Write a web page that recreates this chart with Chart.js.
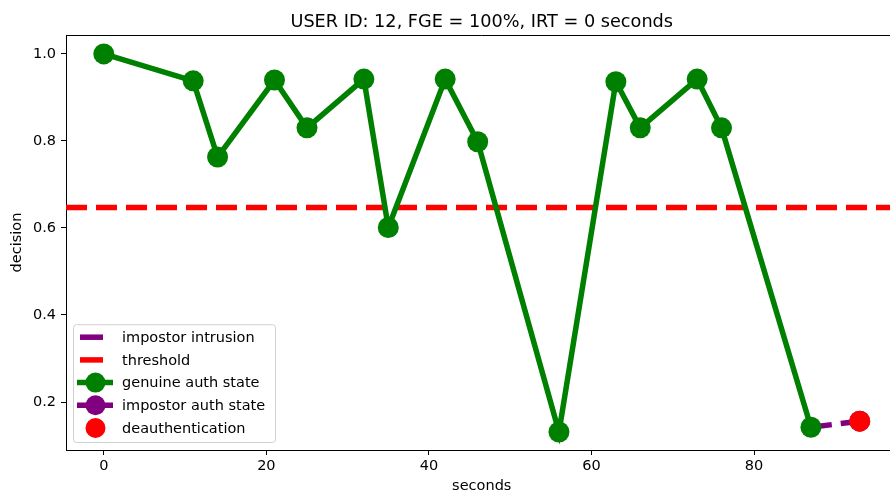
<!DOCTYPE html>
<html>
<head>
<meta charset="utf-8">
<script src="https://cdn.jsdelivr.net/npm/chart.js@4/dist/chart.umd.min.js"></script>
<style>
  html, body { margin: 0; padding: 0; overflow: hidden; background: #fff; }
  #wrap { width: 890px; height: 495px; overflow: hidden; }
</style>
</head>
<body>
<div id="wrap"><canvas id="chartAuth" width="908" height="495"></canvas></div>
<script>
// data
const genuineSec = [0, 11, 14, 21, 25, 32, 35, 42, 46, 56, 63, 66, 73, 76, 87];
const genuineDecision = [1.0, 0.938, 0.763, 0.940, 0.830, 0.942, 0.601, 0.942, 0.798, 0.131, 0.936, 0.830, 0.942, 0.830, 0.142];
const intrusionSec = [87, 93];
const intrusionDecision = [0.142, 0.156];
const impostorSec = [93];
const impostorDecision = [0.156];
const deauthSec = [93];
const deauthDecision = [0.156];
const thresholdValue = 0.647;
const xTicks = [0, 20, 40, 60, 80];
const yTicks = [0.2, 0.4, 0.6, 0.8, 1.0];
const chartTitle = 'USER ID: 12, FGE = 100%, IRT = 0 seconds';

const X_MIN = -4.65, X_MAX = 97.65;
const Y_MIN = 0.0897, Y_MAX = 1.0434;

const GREEN = '#008000';
const PURPLE = '#800080';
const RED = '#ff0000';

function toPoints(xs, ys) {
    return xs.map((x, i) => ({ x: x, y: ys[i] }));
}

Chart.defaults.font.family = 'DejaVu Sans';
Chart.defaults.font.size = 14.5;
Chart.defaults.color = '#000';

// matplotlib style box, title over the axes and legend in the lower left corner
const boxAndLegend = {
    id: 'boxAndLegend',
    afterDatasetsDraw(chart) {
        const { ctx, chartArea } = chart;
        ctx.save();
        ctx.strokeStyle = '#000';
        ctx.lineWidth = 1;
        ctx.beginPath();
        ctx.moveTo(chartArea.left, chartArea.top + 0.5);
        ctx.lineTo(chartArea.right, chartArea.top + 0.5);
        ctx.lineTo(chartArea.right, chartArea.bottom);
        ctx.stroke();

        ctx.fillStyle = '#000';
        ctx.font = '17.7px "DejaVu Sans"';
        ctx.textAlign = 'center';
        ctx.textBaseline = 'alphabetic';
        ctx.fillText(chartTitle, (chartArea.left + chartArea.right) / 2, chartArea.top - 8.5);

        const rowH = 22.7;
        const items = chart.data.datasets;
        const boxX = chartArea.left + 7;
        const boxW = 202;
        const boxH = 13 + rowH * (items.length - 1) + 14;
        const boxY = chartArea.bottom - 8 - boxH;

        ctx.beginPath();
        ctx.roundRect(boxX + 0.5, boxY + 0.5, boxW, boxH, 3);
        ctx.fillStyle = 'rgba(255,255,255,0.8)';
        ctx.fill();
        ctx.strokeStyle = '#d0d0d0';
        ctx.stroke();

        items.forEach((ds, i) => {
            const cy = boxY + 13 + i * rowH;
            const x0 = boxX + 4, x1 = boxX + 40;
            if (ds.showLine !== false) {
                ctx.beginPath();
                ctx.strokeStyle = ds.borderColor;
                ctx.lineWidth = ds.borderWidth;
                if (ds.borderDash && ds.borderDash.length) {
                    ctx.moveTo(x0 + 3, cy);
                    ctx.lineTo(x0 + 26, cy);
                } else {
                    ctx.moveTo(x0, cy);
                    ctx.lineTo(x1, cy);
                }
                ctx.stroke();
            }
            if (ds.pointRadius > 0) {
                ctx.beginPath();
                ctx.fillStyle = ds.pointBackgroundColor;
                ctx.arc(boxX + 22.5, cy, ds.pointRadius - 0.5, 0, Math.PI * 2);
                ctx.fill();
            }
            ctx.fillStyle = '#000';
            ctx.font = '14.5px "DejaVu Sans"';
            ctx.textBaseline = 'middle';
            ctx.textAlign = 'left';
            ctx.fillText(ds.label, boxX + 49, cy + 1);
        });
        ctx.restore();
    }
};

new Chart(document.getElementById('chartAuth'), {
    type: 'line',
    data: {
        datasets: [{
            label: 'impostor intrusion',
            data: toPoints(intrusionSec, intrusionDecision),
            borderColor: PURPLE,
            borderWidth: 5.5,
            borderDash: [21, 9],
            pointRadius: 0,
            order: 5
        }, {
            label: 'threshold',
            data: toPoints([X_MIN, X_MAX], [thresholdValue, thresholdValue]),
            borderColor: RED,
            borderWidth: 5.5,
            borderDash: [21, 9],
            pointRadius: 0,
            order: 4
        }, {
            label: 'genuine auth state',
            data: toPoints(genuineSec, genuineDecision),
            borderColor: GREEN,
            borderWidth: 5.5,
            pointRadius: 10.5,
            pointBorderWidth: 0,
            pointBackgroundColor: GREEN,
            order: 3
        }, {
            label: 'impostor auth state',
            data: toPoints(impostorSec, impostorDecision),
            borderColor: PURPLE,
            borderWidth: 5.5,
            pointRadius: 10.5,
            pointBorderWidth: 0,
            pointBackgroundColor: PURPLE,
            order: 2
        }, {
            label: 'deauthentication',
            data: toPoints(deauthSec, deauthDecision),
            borderColor: RED,
            showLine: false,
            pointRadius: 10.5,
            pointBorderWidth: 0,
            pointBackgroundColor: RED,
            order: 1
        }]
    },
    options: {
        responsive: false,
        animation: false,
        layout: { padding: { left: 0, right: 0, top: 35, bottom: 0 } },
        plugins: {
            legend: { display: false },
            tooltip: { enabled: false },
            title: { display: false }
        },
        scales: {
            x: {
                type: 'linear',
                min: X_MIN,
                max: X_MAX,
                afterFit: (scale) => {
                    scale.height = 45;
                    scale.paddingLeft = 0;
                    scale.paddingRight = 0;
                },
                afterBuildTicks: (scale) => { scale.ticks = xTicks.map(v => ({ value: v })); },
                grid: { display: true, drawOnChartArea: false, drawTicks: true, tickLength: 5, color: '#000' },
                border: { display: true, color: '#000', width: 1 },
                ticks: { padding: 3, color: '#000', callback: (v) => String(v) },
                title: { display: true, text: 'seconds', color: '#000', padding: { top: 0, bottom: 0 } }
            },
            y: {
                min: Y_MIN,
                max: Y_MAX,
                afterFit: (scale) => {
                    scale.width = 66;
                    scale.paddingTop = 0;
                    scale.paddingBottom = 0;
                },
                afterBuildTicks: (scale) => { scale.ticks = yTicks.map(v => ({ value: v })); },
                grid: { display: true, drawOnChartArea: false, drawTicks: true, tickLength: 5, color: '#000' },
                border: { display: true, color: '#000', width: 1 },
                ticks: { padding: 5, color: '#000', callback: (v) => v.toFixed(1) },
                title: { display: true, text: 'decision', color: '#000', padding: { top: 9, bottom: 0 } }
            }
        }
    },
    plugins: [boxAndLegend]
});
</script>
</body>
</html>
